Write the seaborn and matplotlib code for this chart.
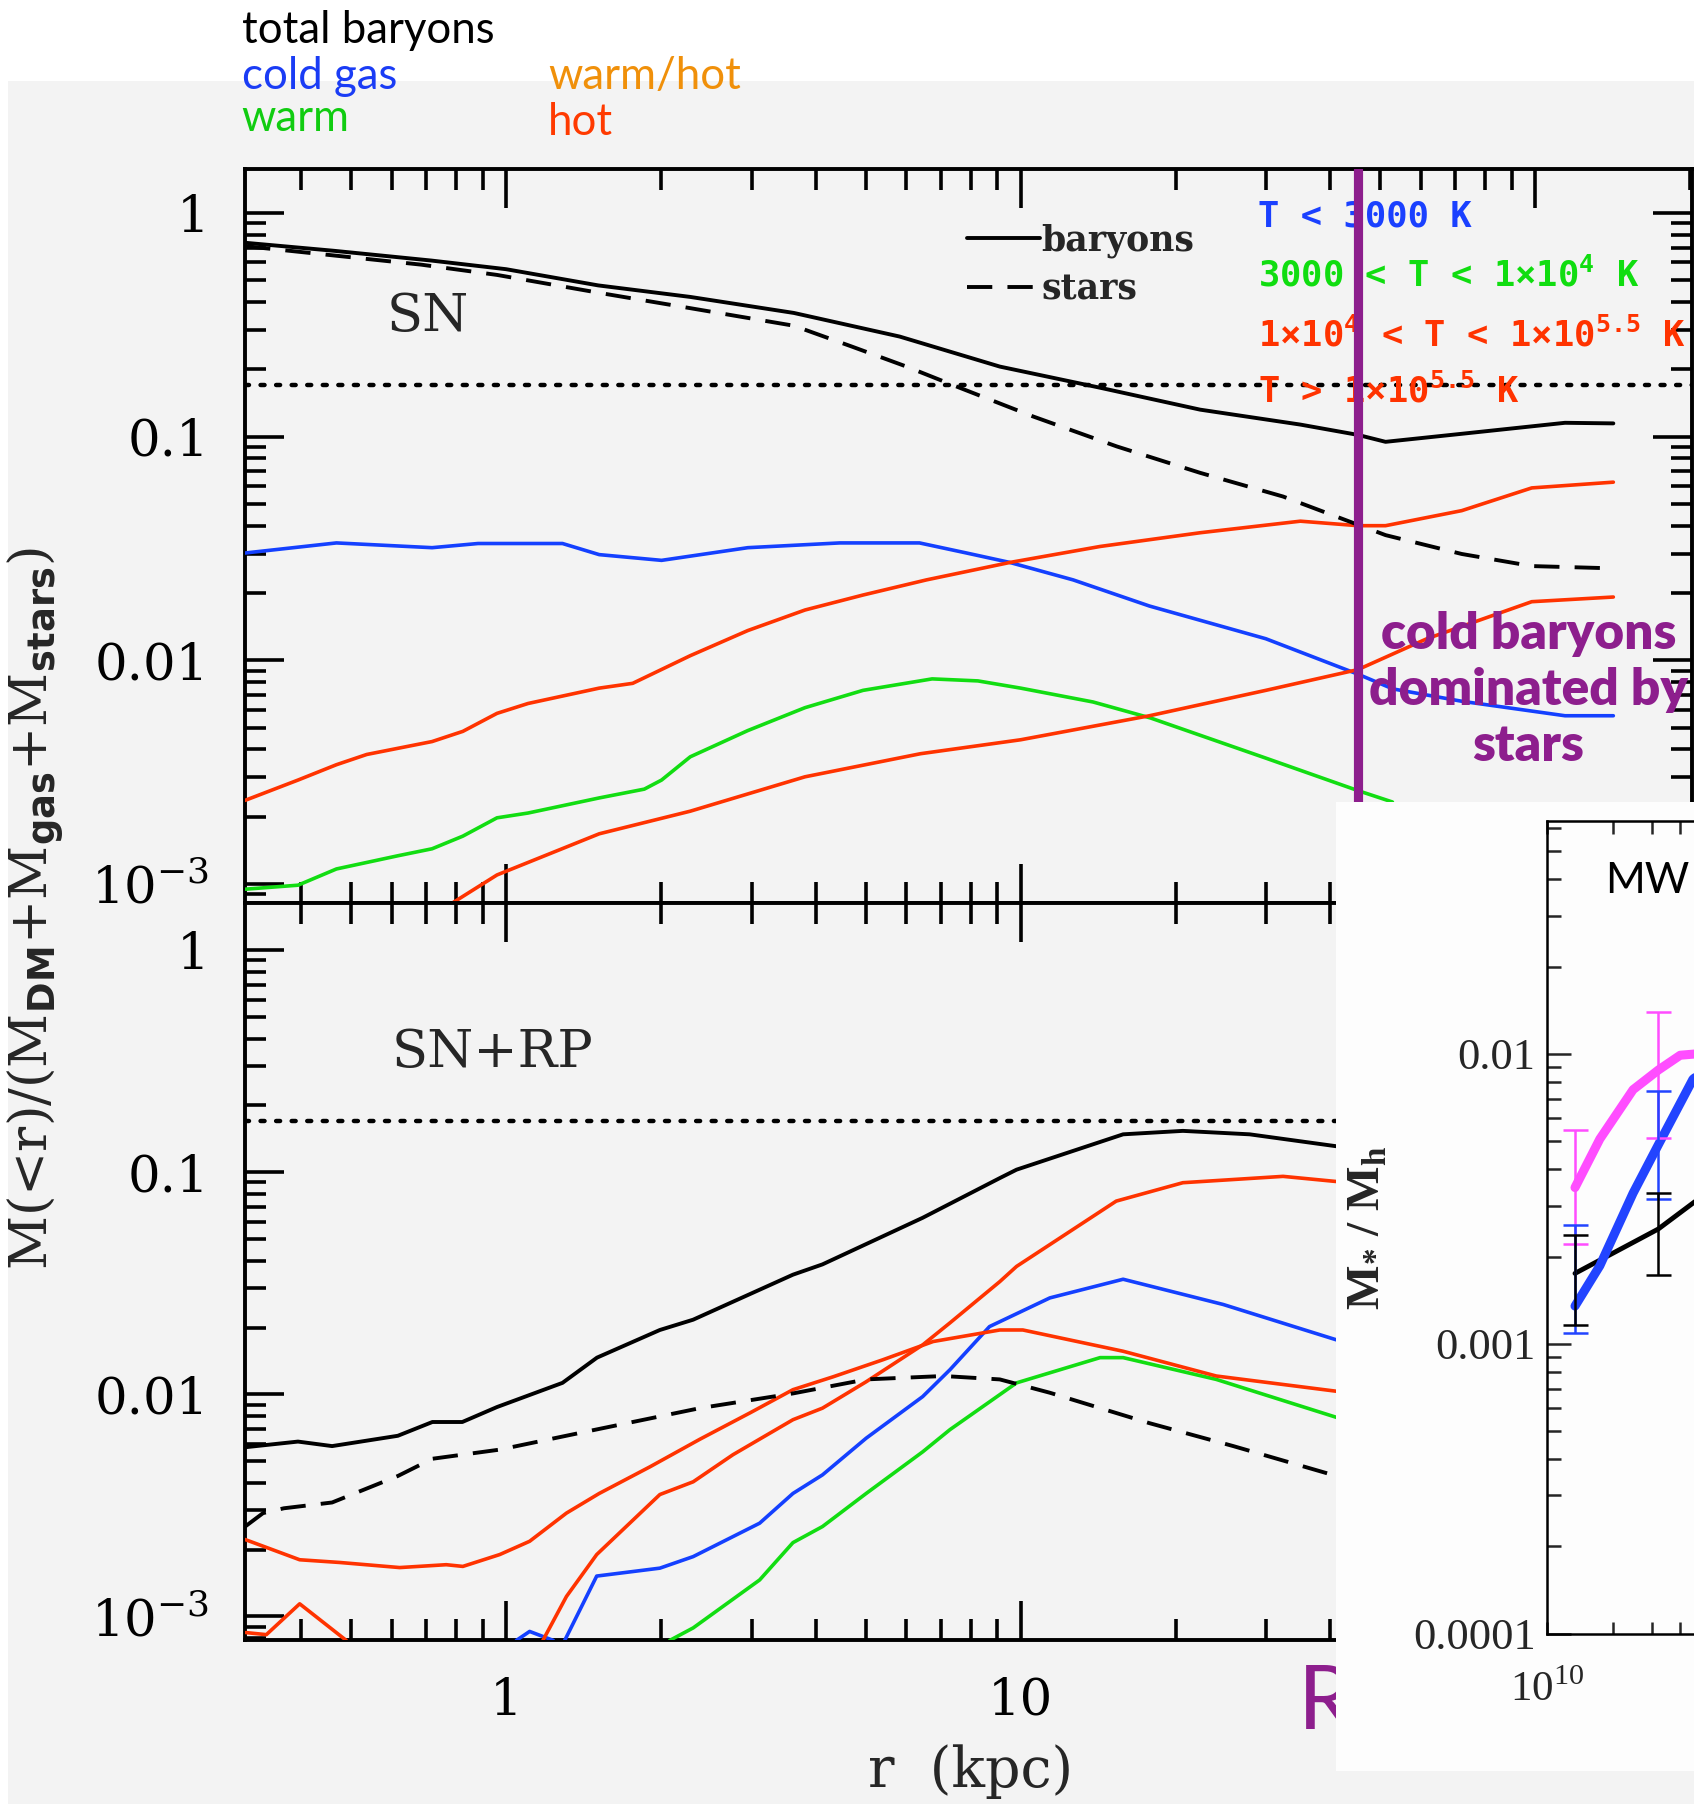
import numpy as np
import pandas as pd
import matplotlib
matplotlib.use("Agg")
import matplotlib.pyplot as plt
import seaborn as sns
from matplotlib.patches import Rectangle
from matplotlib.ticker import FixedLocator, FixedFormatter, LogLocator, NullFormatter

# ---------------------------------------------------------------- data
# Top panel: SN run, r in kpc, mass fraction M(<r)/(M_DM+M_gas+M_stars)
sn_bary_r = [0.311, 0.462, 0.716, 1.0, 1.51, 2.28, 3.625, 5.82, 9.11, 14.27, 22.33, 34.97, 45.25, 51.2, 72.1, 114.3, 141.9]
sn_bary_v = [0.735, 0.677, 0.612, 0.56, 0.474, 0.421, 0.357, 0.28, 0.2056, 0.1654, 0.132, 0.1132, 0.1018, 0.0948, 0.103, 0.1153, 0.1146]

sn_star_r = [0.311, 0.683, 0.96, 1.517, 2.28, 3.625, 4.69, 6.0, 7.61, 10.58, 15.38, 22.33, 32.36, 45.25, 51.2, 72.0, 98.5, 140.5]
sn_star_v = [0.71, 0.587, 0.528, 0.439, 0.375, 0.313, 0.253, 0.2056, 0.1654, 0.123, 0.0904, 0.0689, 0.054, 0.0404, 0.0363, 0.0299, 0.0264, 0.0258]

sn_cold_r = [0.311, 0.468, 0.718, 0.882, 1.287, 1.517, 2.005, 2.95, 4.45, 6.36, 7.85, 9.53, 12.65, 17.8, 29.96, 45.25, 52.9, 72.0, 114.3, 141.9]
sn_cold_v = [0.0302, 0.0335, 0.0319, 0.0333, 0.0333, 0.0297, 0.028, 0.0319, 0.0335, 0.0335, 0.0302, 0.0274, 0.0229, 0.0175, 0.0125, 0.00868, 0.00746, 0.00657, 0.00566, 0.00566]

sn_whot_r = [0.311, 0.394, 0.468, 0.536, 0.718, 0.824, 0.96, 1.103, 1.517, 1.762, 2.28, 2.95, 3.81, 4.94, 6.56, 9.53, 14.27, 22.33, 34.97, 45.25, 51.2, 72.0, 98.5, 141.9]
sn_whot_v = [0.00237, 0.00292, 0.00342, 0.0038, 0.00434, 0.00482, 0.0058, 0.00642, 0.00752, 0.0079, 0.0105, 0.0136, 0.0168, 0.0196, 0.0229, 0.0274, 0.0323, 0.0372, 0.0419, 0.040, 0.040, 0.0467, 0.059, 0.0626]

sn_hot_r = [0.79, 0.96, 1.517, 2.28, 3.81, 6.39, 10.0, 17.8, 29.96, 45.25, 61.6, 98.5, 141.9]
sn_hot_v = [0.00083, 0.0011, 0.00168, 0.00212, 0.00302, 0.00383, 0.00442, 0.00566, 0.00735, 0.0091, 0.0125, 0.0183, 0.0192]

sn_warm_r = [0.311, 0.394, 0.468, 0.616, 0.718, 0.824, 0.96, 1.103, 1.517, 1.856, 2.005, 2.28, 2.95, 3.81, 4.94, 6.73, 8.26, 10.0, 13.83, 17.89, 29.96, 45.25, 52.8]
sn_warm_v = [0.00095, 0.00099, 0.00117, 0.00134, 0.00144, 0.00164, 0.00198, 0.00208, 0.00243, 0.00266, 0.00292, 0.00371, 0.00486, 0.00615, 0.00735, 0.00827, 0.0081, 0.00752, 0.00652, 0.00553, 0.00366, 0.00262, 0.00233]

# Bottom panel: SN+RP run
rp_bary_r = [0.311, 0.394, 0.459, 0.616, 0.719, 0.822, 0.96, 1.287, 1.502, 1.99, 2.31, 3.61, 4.12, 6.45, 9.11, 9.82, 15.82, 20.67, 27.87, 41.13]
rp_bary_v = [0.00578, 0.00613, 0.00585, 0.00651, 0.00751, 0.00751, 0.00877, 0.01127, 0.01464, 0.0195, 0.0217, 0.0346, 0.0385, 0.0624, 0.0942, 0.1028, 0.1483, 0.1537, 0.1483, 0.131]

rp_star_r = [0.311, 0.337, 0.37, 0.459, 0.616, 0.719, 0.972, 1.41, 2.38, 3.61, 5.01, 7.08, 9.11, 11.4, 17.8, 25.9, 41.1]
rp_star_v = [0.00254, 0.00292, 0.00307, 0.00326, 0.00429, 0.00513, 0.00564, 0.00675, 0.00867, 0.0101, 0.01168, 0.0121, 0.01168, 0.01017, 0.00742, 0.00585, 0.00429]

rp_redA_r = [0.311, 0.397, 0.475, 0.621, 0.765, 0.824, 0.972, 1.111, 1.31, 1.517, 1.904, 2.38, 2.98, 3.61, 4.32, 5.39, 6.76, 9.11, 10.1, 15.82, 24.0, 41.1]
rp_redA_v = [0.00222, 0.0018, 0.00175, 0.00166, 0.00171, 0.00168, 0.0019, 0.00218, 0.00292, 0.00358, 0.00472, 0.00628, 0.00826, 0.0105, 0.012, 0.0143, 0.0173, 0.0195, 0.0195, 0.01564, 0.0121, 0.01033]

rp_redB1_r = [0.312, 0.342, 0.397, 0.489]
rp_redB1_v = [0.000846, 0.000828, 0.00114, 0.00078]
rp_redB2_r = [1.179, 1.31, 1.50, 1.99, 2.31, 2.76, 3.61, 4.12, 5.01, 6.45, 7.29, 9.11, 9.82, 15.34, 20.67, 32.36, 41.1]
rp_redB2_v = [0.00078, 0.00123, 0.0019, 0.00354, 0.00404, 0.00535, 0.00769, 0.00867, 0.0114, 0.0167, 0.021, 0.0322, 0.0377, 0.0742, 0.0898, 0.0959, 0.0909]

rp_cold1_r = [1.047, 1.111, 1.235]
rp_cold1_v = [0.00078, 0.000856, 0.00078]
rp_cold2_r = [1.30, 1.50, 1.99, 2.31, 3.11, 3.61, 4.12, 5.01, 6.45, 7.29, 8.70, 11.4, 15.82, 24.76, 41.1]
rp_cold2_v = [0.00078, 0.00152, 0.00165, 0.00186, 0.00263, 0.00358, 0.00434, 0.00635, 0.00977, 0.01292, 0.0202, 0.0272, 0.033, 0.0254, 0.0176]

rp_warm_r = [2.08, 2.31, 3.11, 3.61, 4.12, 5.01, 6.45, 7.29, 9.82, 14.27, 15.82, 24.0, 41.1]
rp_warm_v = [0.00078, 0.000888, 0.00146, 0.00215, 0.00254, 0.00358, 0.00551, 0.00694, 0.01127, 0.01464, 0.01464, 0.01168, 0.00788]

F_BARYON = 0.17      # cosmic baryon fraction (dotted line)
R_MARK = 45.25       # purple marker radius (kpc)

# Inset: M_star / M_halo vs M_halo
in_mag_m = [1.343e10, 1.74e10, 2.46e10, 3.2e10, 4.02e10, 4.7e10]
in_mag_v = [0.00346, 0.00509, 0.00753, 0.0088, 0.0099, 0.0100]
in_blu_m = [1.343e10, 1.74e10, 2.46e10, 3.2e10, 4.59e10, 4.7e10]
in_blu_v = [0.00135, 0.00186, 0.00331, 0.00486, 0.00818, 0.0083]
in_blk_m = [1.343e10, 3.2e10, 4.7e10]
in_blk_v = [0.00175, 0.00249, 0.0031]
eb_m = [1.343e10, 3.2e10]
eb_mag_lo, eb_mag_hi = [0.00221, 0.00513], [0.00547, 0.01394]
eb_blu_lo, eb_blu_hi = [0.00109, 0.00316], [0.00258, 0.00747]
eb_blk_lo, eb_blk_hi = [0.00116, 0.00173], [0.00237, 0.00332]

main_yticks = [1e-3, 1e-2, 1e-1, 1.0]
main_ylabels = ["10$^{\\mathregular{\u22123}}$", "0.01", "0.1", "1"]
main_xticks = [1.0, 10.0, 100.0]
main_xlabels = ["1", "10", ""]          # the 100 label lies under the inset picture
in_yticks = [1e-4, 1e-3, 1e-2]
in_ylabels = ["0.0001", "0.001", "0.01"]

# ---------------------------------------------------------------- style
sns.set_style("ticks")
plt.rcParams["font.family"] = ["DejaVu Serif"]
plt.rcParams["mathtext.fontset"] = "dejavusans"

BG = "#f3f3f3"
C_BLUE = "#1440ff"
C_GREEN = "#12dd12"
C_RED = "#ff3300"
C_PURPLE = "#8d1e8d"

fig = plt.figure(figsize=(16.94, 18.04), dpi=100)
fig.patch.set_facecolor("white")
W, H = 1472.0, 1568.0


def fx(x):
    return x / W


def fy(y):
    return 1 - y / H


fig.add_artist(Rectangle((fx(7), 0), 1.0, fy(70), transform=fig.transFigure,
                         facecolor=BG, edgecolor="none", zorder=-10))

ax1 = fig.add_axes([fx(213), fy(785), fx(1470) - fx(213), fy(147) - fy(785)])
ax2 = fig.add_axes([fx(213), fy(1425.7), fx(1470) - fx(213), fy(785) - fy(1425.7)])


def style_main(ax, ylim):
    ax.set_facecolor(BG)
    ax.set_xscale("log")
    ax.set_yscale("log")
    ax.set_xlim(0.311, 201.5)
    ax.set_ylim(*ylim)
    for s in ax.spines.values():
        s.set_linewidth(2.8)
        s.set_color("black")
        s.set_visible(True)
    ax.yaxis.set_major_locator(FixedLocator(main_yticks))
    ax.yaxis.set_major_formatter(FixedFormatter(main_ylabels))
    ax.yaxis.set_minor_locator(LogLocator(base=10, subs=np.arange(2, 10) * 1.0, numticks=30))
    ax.yaxis.set_minor_formatter(NullFormatter())
    ax.xaxis.set_major_locator(FixedLocator(main_xticks))
    ax.xaxis.set_major_formatter(FixedFormatter(main_xlabels))
    ax.xaxis.set_minor_locator(LogLocator(base=10, subs=np.arange(2, 10) * 1.0, numticks=30))
    ax.xaxis.set_minor_formatter(NullFormatter())
    ax.tick_params(which="both", direction="in", top=True, right=True, width=2.6,
                   color="black", labelsize=37, labelcolor="black")
    ax.tick_params(which="major", length=28, pad=26)
    ax.tick_params(which="minor", length=15)


style_main(ax1, (0.000823, 1.568))
style_main(ax2, (0.000781, 1.63))
ax1.tick_params(labelbottom=False)


def line(ax, r, v, color, lw, ls="-", z=3):
    df = pd.DataFrame({"r": r, "v": v})
    sns.lineplot(data=df, x="r", y="v", ax=ax, color=color, linewidth=lw, linestyle=ls,
                 sort=False, estimator=None, legend=False, zorder=z)
    return ax.get_lines()[-1]


DASH = (0, (6.5, 3.9))
DOT = (0, (0.9, 2.6))
LWC = 2.6
LWK = 2.8

# top panel
ax1.axhline(F_BARYON, color="black", lw=3.2, linestyle=DOT, dash_capstyle="round", zorder=2)
line(ax1, sn_cold_r, sn_cold_v, C_BLUE, LWC)
line(ax1, sn_warm_r, sn_warm_v, C_GREEN, LWC)
line(ax1, sn_whot_r, sn_whot_v, C_RED, LWC)
line(ax1, sn_hot_r, sn_hot_v, C_RED, LWC)
h_star = line(ax1, sn_star_r, sn_star_v, "black", LWK, DASH)
h_bary = line(ax1, sn_bary_r, sn_bary_v, "black", LWK)
ax1.axvline(R_MARK, color=C_PURPLE, lw=6.6, zorder=4)

# bottom panel
ax2.axhline(F_BARYON, color="black", lw=3.2, linestyle=DOT, dash_capstyle="round", zorder=2)
line(ax2, rp_warm_r, rp_warm_v, C_GREEN, LWC)
line(ax2, rp_cold1_r, rp_cold1_v, C_BLUE, LWC)
line(ax2, rp_cold2_r, rp_cold2_v, C_BLUE, LWC)
line(ax2, rp_redA_r, rp_redA_v, C_RED, LWC)
line(ax2, rp_redB1_r, rp_redB1_v, C_RED, LWC)
line(ax2, rp_redB2_r, rp_redB2_v, C_RED, LWC)
line(ax2, rp_star_r, rp_star_v, "black", LWK, DASH)
line(ax2, rp_bary_r, rp_bary_v, "black", LWK)

for ax in (ax1, ax2):
    ax.set_xlabel("")
    ax.set_ylabel("")

# legend in top panel
leg = ax1.legend(handles=[h_bary, h_star], labels=["baryons", "stars"], loc="upper left",
                 bbox_to_anchor=((840 - 213) / 1257, (785 - 194) / 638), frameon=False,
                 prop={"family": "DejaVu Serif", "weight": "bold", "size": 25},
                 handlelength=2.1, handletextpad=0.06, labelspacing=0.42,
                 borderpad=0, borderaxespad=0)

ax1.text((372 - 213) / 1257, (785 - 275) / 638, "SN", transform=ax1.transAxes,
         ha="center", va="center", fontsize=38)
ax2.text((428 - 213) / 1257, (1425.7 - 915) / 640.7, "SN+RP", transform=ax2.transAxes,
         ha="center", va="center", fontsize=38)

tlabels = [
    ("T < 3000 K", "#1a40ff", 197),
    ("3000 < T < 1\u00d710$^{\\mathregular{4}}$ K", "#10dd10", 249),
    ("1\u00d710$^{\\mathregular{4}}$ < T < 1\u00d710$^{\\mathregular{5.5}}$ K", C_RED, 301),
    ("T > 1\u00d710$^{\\mathregular{5.5}}$ K", C_RED, 350),
]
for txt, col, yb in tlabels:
    ax1.text((1093 - 213) / 1257, (785 - yb) / 638, txt, transform=ax1.transAxes,
             ha="left", va="baseline", color=col, family="DejaVu Sans Mono",
             weight="bold", fontsize=25.6, zorder=3)

# slide texts
for txt, col, x, yb in [("total baryons", "black", 210, 37), ("cold gas", "#1a3cf5", 210, 77),
                        ("warm", "#10cc10", 210, 114), ("warm/hot", "#f0900a", 476, 77),
                        ("hot", "#ff3a00", 476, 117)]:
    fig.text(fx(x), fy(yb), txt, color=col, family="Lato", fontsize=31.5, va="baseline", ha="left")

for txt, yc in [("cold baryons", 551), ("dominated by", 600), ("stars", 648)]:
    fig.text(fx(1328), fy(yc), txt, color=C_PURPLE, family="Lato", weight="heavy",
             fontsize=37, ha="center", va="center", zorder=4)

fig.text(fx(1128), fy(1503), "R", color=C_PURPLE, family="Lato", fontsize=64,
         ha="left", va="baseline", zorder=3)

fig.text(fx(32), fy(790),
         "M(<r)/(M$_{\\mathbf{DM}}$+M$_{\\mathbf{gas}}$+M$_{\\mathbf{stars}}$)",
         rotation=90, ha="center", va="center", fontsize=38)
fig.text(fx(843), fy(1540), "r  (kpc)", ha="center", va="center", fontsize=40)

# ---------------------------------------------------------------- inset
fig.add_artist(Rectangle((fx(1161), fy(1539)), 1.0, fy(697) - fy(1539),
                         transform=fig.transFigure, facecolor="#fdfdfd",
                         edgecolor="none", zorder=5))
axi = fig.add_axes([fx(1344), fy(1420), 384 / W, fy(714) - fy(1420)])
axi.set_zorder(6)
axi.set_facecolor("#fdfdfd")
axi.set_xscale("log")
axi.set_yscale("log")
axi.set_xlim(1e10, 1e12)
axi.set_ylim(1e-4, 0.0634)
for s in axi.spines.values():
    s.set_linewidth(1.8)
    s.set_color("black")
axi.yaxis.set_major_locator(FixedLocator(in_yticks))
axi.yaxis.set_major_formatter(FixedFormatter(in_ylabels))
axi.yaxis.set_minor_locator(LogLocator(base=10, subs=np.arange(2, 10) * 1.0, numticks=30))
axi.yaxis.set_minor_formatter(NullFormatter())
axi.xaxis.set_major_locator(FixedLocator([1e10]))
axi.xaxis.set_major_formatter(FixedFormatter(["10$^{\\mathregular{10}}$"]))
axi.xaxis.set_minor_locator(LogLocator(base=10, subs=np.arange(2, 10) * 1.0, numticks=30))
axi.xaxis.set_minor_formatter(NullFormatter())
axi.tick_params(which="both", direction="in", top=True, right=True, width=1.8,
                labelsize=32, labelfontfamily="Liberation Serif")
axi.tick_params(axis="y", which="major", length=17, pad=8)
axi.tick_params(axis="y", which="minor", length=10)
axi.tick_params(axis="x", which="both", length=9, pad=26, labelsize=31)

line(axi, in_blk_m, in_blk_v, "black", 3.5)
line(axi, in_blu_m, in_blu_v, "#2244ff", 6.5)
line(axi, in_mag_m, in_mag_v, "#ff4dff", 6.5)
for lo, hi, cen, col in [(eb_mag_lo, eb_mag_hi, [in_mag_v[0], in_mag_v[3]], "#ff4dff"),
                         (eb_blu_lo, eb_blu_hi, [in_blu_v[0], in_blu_v[3]], "#2244ff"),
                         (eb_blk_lo, eb_blk_hi, [in_blk_v[0], in_blk_v[1]], "black")]:
    c = np.array(cen)
    axi.errorbar(eb_m, c, yerr=[c - np.array(lo), np.array(hi) - c], fmt="none",
                 ecolor=col, elinewidth=1.8, capsize=9, capthick=1.8, zorder=4)
axi.set_xlabel("")
axi.set_ylabel("")

fig.text(fx(1189), fy(1067), "M$_{\\mathregular{*}}$ / M$_{\\mathregular{h}}$", rotation=90,
         ha="center", va="center", family="Liberation Serif", weight="bold",
         fontsize=34, zorder=7)
fig.text(fx(1395), fy(766), "MW", family="Lato", fontsize=31, ha="left", va="center",
         color="black", zorder=7)

fig.savefig("out.png", dpi=100)
